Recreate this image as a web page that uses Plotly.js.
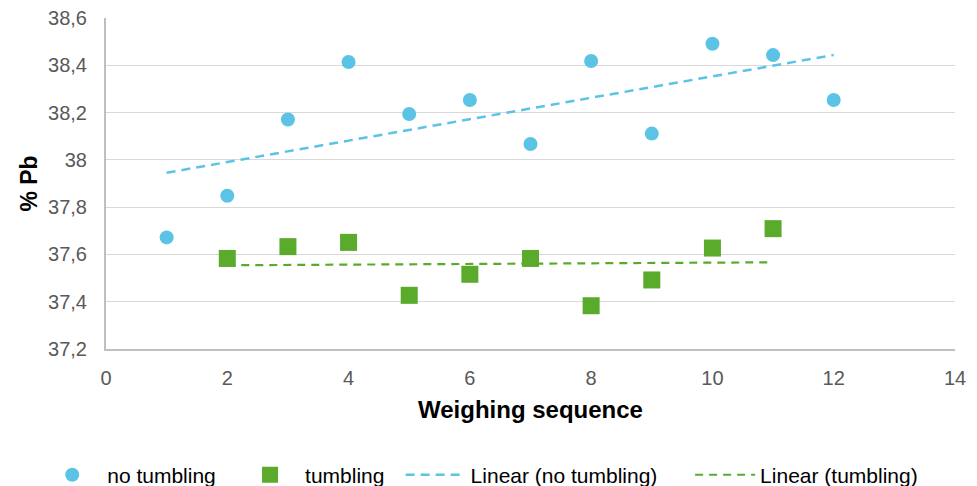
<!DOCTYPE html>
<html>
<head>
<meta charset="utf-8">
<script src="https://cdn.plot.ly/plotly-3.0.1.min.js"></script>
<style>html,body{margin:0;padding:0;background:#fff;}#chart{width:977px;height:486px;}</style>
</head>
<body>
<div id="chart"></div>
<script>
// Data
const seqNoTumbling = [1, 2, 3, 4, 5, 6, 7, 8, 9, 10, 11, 12];
const pbNoTumbling = [37.672, 37.848, 38.171, 38.414, 38.194, 38.253, 38.067, 38.418, 38.111, 38.491, 38.443, 38.253];
const seqTumbling = [2, 3, 4, 5, 6, 7, 8, 9, 10, 11];
const pbTumbling = [37.583, 37.633, 37.651, 37.427, 37.516, 37.583, 37.383, 37.492, 37.627, 37.709];
const seriesNames = ["no tumbling", "tumbling", "Linear (no tumbling)", "Linear (tumbling)"];
const xTickVals = [0, 2, 4, 6, 8, 10, 12, 14];
const yTickVals = [37.2, 37.4, 37.6, 37.8, 38, 38.2, 38.4, 38.6];

// Least-squares linear trendline computed from the data (as Excel does)
function linearFit(xs, ys) {
  const n = xs.length;
  const mx = xs.reduce((a, b) => a + b, 0) / n;
  const my = ys.reduce((a, b) => a + b, 0) / n;
  let sxy = 0, sxx = 0;
  for (let i = 0; i < n; i++) { sxy += (xs[i] - mx) * (ys[i] - my); sxx += (xs[i] - mx) * (xs[i] - mx); }
  const slope = sxy / sxx, icpt = my - slope * mx;
  const x0 = Math.min(...xs), x1 = Math.max(...xs);
  return { x: [x0, x1], y: [icpt + slope * x0, icpt + slope * x1] };
}
const fitNo = linearFit(seqNoTumbling, pbNoTumbling);
const fitT = linearFit(seqTumbling, pbTumbling);

const blue = '#5bc3e6';
const green = '#5aaa2c';
const font = 'Liberation Sans, Arial, sans-serif';

const traces = [
  { x: fitNo.x, y: fitNo.y, mode: 'lines', name: seriesNames[2], legend: 'legend3',
    line: { color: blue, width: 2.5, dash: '9px,6px' }, hoverinfo: 'skip' },
  { x: fitT.x, y: fitT.y, mode: 'lines', name: seriesNames[3], legend: 'legend4',
    line: { color: green, width: 2.2, dash: '8px,6px' }, hoverinfo: 'skip' },
  { x: seqNoTumbling, y: pbNoTumbling, mode: 'markers', name: seriesNames[0], legend: 'legend',
    marker: { symbol: 'circle', size: 14, color: blue, line: { width: 0 } } },
  { x: seqTumbling, y: pbTumbling, mode: 'markers', name: seriesNames[1], legend: 'legend2',
    marker: { symbol: 'square', size: 17, color: green, line: { width: 0 } } }
];

const legFont = { family: font, size: 21, color: '#000000' };
function leg(x) {
  return { x: x, y: -0.381, xanchor: 'left', yanchor: 'middle', orientation: 'h',
    font: legFont, bgcolor: 'rgba(0,0,0,0)', itemwidth: 60, borderwidth: 0 };
}

const layout = {
  width: 977, height: 486,
  margin: { l: 106, r: 22, t: 18, b: 137, autoexpand: false },
  paper_bgcolor: '#ffffff', plot_bgcolor: '#ffffff',
  separators: ',.',
  font: { family: font, size: 20, color: '#595959' },
  showlegend: true,
  xaxis: {
    range: [0, 14], tickvals: xTickVals, showgrid: false, zeroline: false,
    showline: true, linecolor: '#bfbfbf', linewidth: 2, ticks: '',
    ticklabelstandoff: 10, automargin: false,
    tickfont: { family: font, size: 20, color: '#595959' },
    title: { text: 'Weighing sequence', standoff: 13, font: { family: font, size: 24, color: '#000000', weight: 'bold' } }
  },
  yaxis: {
    range: [37.2, 38.6], tickvals: yTickVals, showgrid: true, gridcolor: '#d9d9d9', gridwidth: 1,
    zeroline: false, showline: true, linecolor: '#bfbfbf', linewidth: 2, ticks: '',
    ticklabelstandoff: 13, automargin: false,
    tickfont: { family: font, size: 20, color: '#595959' },
    title: { text: '% Pb', standoff: 4, font: { family: font, size: 23, color: '#000000', weight: 'bold' } }
  },
  legend: leg(-0.081),
  legend2: leg(0.152),
  legend3: leg(0.347),
  legend4: leg(0.688)
};

Plotly.newPlot('chart', traces, layout, { displayModeBar: false, staticPlot: true });
</script>
</body>
</html>
